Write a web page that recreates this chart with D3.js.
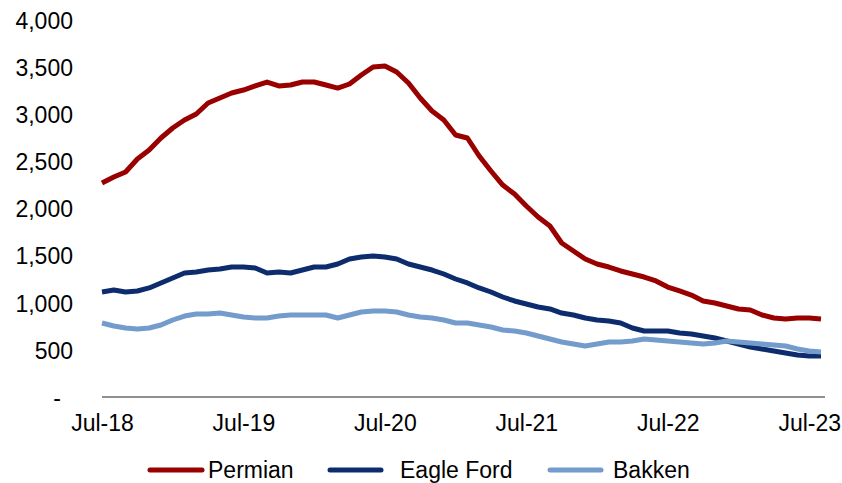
<!DOCTYPE html>
<html>
<head>
<meta charset="utf-8">
<script src="https://cdn.jsdelivr.net/npm/d3@7"></script>
<style>
  html, body { margin: 0; padding: 0; background: #fff; }
  svg { display: block; font-family: "Liberation Sans", Arial, sans-serif; }
</style>
</head>
<body>
<svg id="chart" width="842" height="483"></svg>
<script>
// Monthly categories, Jul-18 through Aug-23
const months = [
  "Jul-18","Aug-18","Sep-18","Oct-18","Nov-18","Dec-18","Jan-19","Feb-19","Mar-19","Apr-19","May-19","Jun-19",
  "Jul-19","Aug-19","Sep-19","Oct-19","Nov-19","Dec-19","Jan-20","Feb-20","Mar-20","Apr-20","May-20","Jun-20",
  "Jul-20","Aug-20","Sep-20","Oct-20","Nov-20","Dec-20","Jan-21","Feb-21","Mar-21","Apr-21","May-21","Jun-21",
  "Jul-21","Aug-21","Sep-21","Oct-21","Nov-21","Dec-21","Jan-22","Feb-22","Mar-22","Apr-22","May-22","Jun-22",
  "Jul-22","Aug-22","Sep-22","Oct-22","Nov-22","Dec-22","Jan-23","Feb-23","Mar-23","Apr-23","May-23","Jun-23",
  "Jul-23","Aug-23"
];

const permian = [
  2271, 2334, 2387, 2525, 2620, 2748, 2854, 2939, 3003, 3119, 3172, 3225,
  3257, 3300, 3342, 3300, 3310, 3342, 3342, 3310, 3278, 3321, 3416, 3501,
  3512, 3448, 3332, 3172, 3034, 2939, 2780, 2748, 2557, 2398, 2249, 2154,
  2027, 1910, 1814, 1634, 1549, 1464, 1411, 1379, 1337, 1305, 1273, 1231,
  1167, 1125, 1082, 1019,  997,  966,  934,  923,  870,  838,  828,  838,
   838,  828
];

const eagleFord = [
  1114, 1135, 1114, 1125, 1157, 1210, 1263, 1316, 1326, 1347, 1358, 1379,
  1379, 1369, 1316, 1326, 1316, 1347, 1379, 1379, 1411, 1464, 1485, 1496,
  1485, 1464, 1411, 1379, 1347, 1305, 1252, 1210, 1157, 1114, 1061, 1019,
   987,  955,  934,  891,  870,  838,  817,  806,  785,  732,  700,  700,
   700,  679,  668,  647,  626,  594,  562,  531,  509,  488,  467,  446,
   435,  435
];

const bakken = [
   785,  753,  732,  721,  732,  764,  817,  859,  881,  881,  891,  870,
   849,  838,  838,  859,  870,  870,  870,  870,  838,  870,  902,  912,
   912,  902,  870,  849,  838,  817,  785,  785,  764,  743,  711,  700,
   679,  647,  615,  584,  562,  541,  562,  584,  584,  594,  615,  605,
   594,  584,  573,  562,  573,  594,  584,  573,  562,  552,  541,  509,
   488,  477
];

const seriesNames = ["Permian", "Eagle Ford", "Bakken"];
const xTickLabels = ["Jul-18", "Jul-19", "Jul-20", "Jul-21", "Jul-22", "Jul-23"];
const yTicks = [0, 500, 1000, 1500, 2000, 2500, 3000, 3500, 4000];

const colors = { "Permian": "#990000", "Eagle Ford": "#0c2c6e", "Bakken": "#739bcc" };
const seriesValues = { "Permian": permian, "Eagle Ford": eagleFord, "Bakken": bakken };

const svg = d3.select("#chart");
const fontSize = 23;

const x = d3.scalePoint().domain(months).range([102, 821]);
const y = d3.scaleLinear().domain([0, 4000]).range([397, 20]);

// Y axis labels (no axis line, no ticks)
const yAxis = d3.axisLeft(y)
  .tickValues(yTicks)
  .tickSize(0)
  .tickPadding(0)
  .tickFormat(d => d === 0 ? "-" : d3.format(",")(d));

const gy = svg.append("g").attr("transform", "translate(73,0)").call(yAxis);
gy.select(".domain").remove();
gy.selectAll("text")
  .attr("fill", "#000")
  .style("font-size", fontSize + "px")
  .style("font-family", "Liberation Sans, Arial, sans-serif")
  .attr("dy", "0.36em")
  .attr("x", d => d === 0 ? -12 : 0);

// X axis baseline
svg.append("line")
  .attr("x1", 102).attr("x2", 825)
  .attr("y1", y(0)).attr("y2", y(0))
  .attr("stroke", "#222").attr("stroke-width", 1.2);

// X axis labels
const xAxis = d3.axisBottom(x)
  .tickValues(xTickLabels)
  .tickSize(0)
  .tickPadding(0);
const gx = svg.append("g").attr("transform", "translate(0,414)").call(xAxis);
gx.select(".domain").remove();
gx.selectAll("text")
  .attr("fill", "#000")
  .style("font-size", fontSize + "px")
  .style("font-family", "Liberation Sans, Arial, sans-serif")
  .attr("dy", "0.72em");

// Series lines
const line = d3.line()
  .x((d, i) => x(months[i]))
  .y(d => y(d));

seriesNames.forEach(name => {
  svg.append("path")
    .datum(seriesValues[name])
    .attr("fill", "none")
    .attr("stroke", colors[name])
    .attr("stroke-width", 5)
    .attr("stroke-linejoin", "round")
    .attr("stroke-linecap", "butt")
    .attr("d", line);
});

// Legend
const legendItems = [
  { name: "Permian", x0: 150, x1: 202, tx: 208 },
  { name: "Eagle Ford", x0: 330, x1: 381, tx: 400 },
  { name: "Bakken", x0: 550, x1: 601, tx: 613 }
];
const legendY = 470;
const lg = svg.append("g");
legendItems.forEach(it => {
  lg.append("line")
    .attr("x1", it.x0).attr("x2", it.x1)
    .attr("y1", legendY).attr("y2", legendY)
    .attr("stroke", colors[it.name])
    .attr("stroke-width", 5)
    .attr("stroke-linecap", "round");
  lg.append("text")
    .attr("x", it.tx)
    .attr("y", legendY)
    .attr("dy", "0.34em")
    .attr("fill", "#000")
    .style("font-size", "23px")
    .text(it.name);
});
</script>
</body>
</html>
